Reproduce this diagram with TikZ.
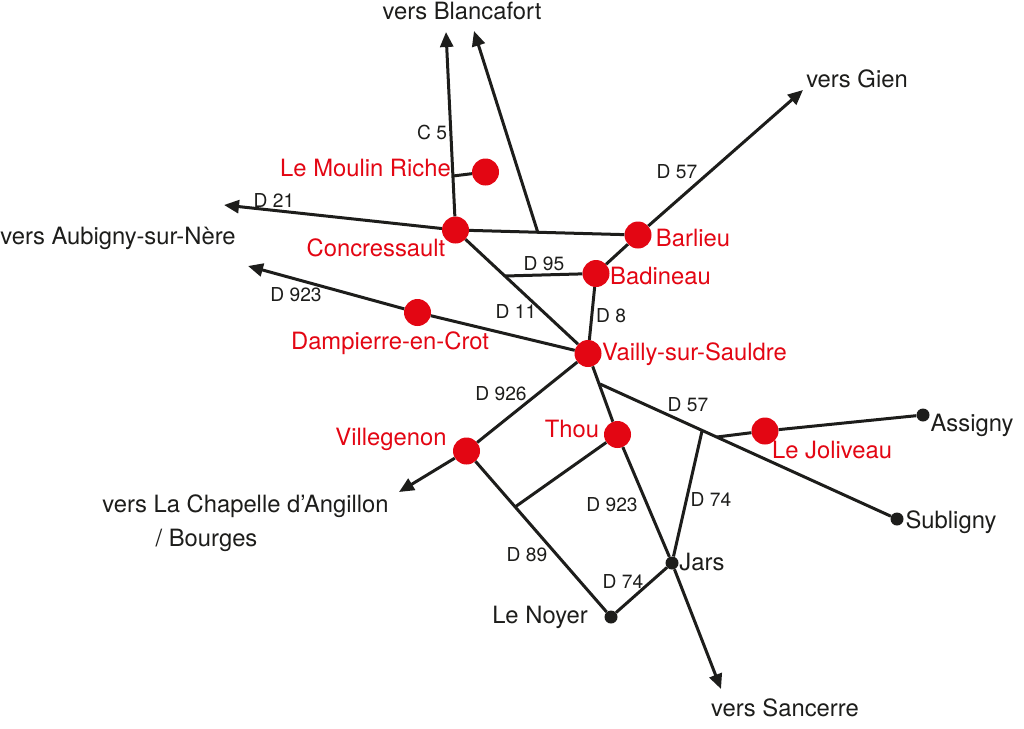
\documentclass[tikz,border=0pt]{standalone}
\usepackage{fontspec}
\setmainfont{TeX Gyre Heros}
\usetikzlibrary{arrows.meta}
\definecolor{villered}{RGB}{227,6,19}
\definecolor{roadblack}{RGB}{29,29,27}
\tikzset{
  ville/.style={circle,fill=villered,inner sep=0pt,minimum size=27pt},
  bourg/.style={circle,fill=roadblack,inner sep=0pt,minimum size=13pt},
  road/.style={draw=roadblack,line width=3pt},
  exit/.style={road,-{Triangle[length=15pt,width=13pt]}},
  rouge/.style={text=villered,inner sep=0pt,text height=19.5pt,text depth=2.5pt,font=\fontsize{23.8}{24}\selectfont},
  noir/.style={text=roadblack,inner sep=0pt,text height=19.5pt,text depth=2.5pt,font=\fontsize{23.8}{24}\selectfont},
  num/.style={text=roadblack,inner sep=0pt,font=\fontsize{19.2}{19.2}\selectfont}
}
\begin{document}
\begin{tikzpicture}[x=1pt,y=-1pt]
      \useasboundingbox (0,0) rectangle (1024,728);
      % villages
      \node[ville] (concressault) at (455.5,230) {};
      \node[ville] (moulin) at (485.5,172) {};
      \node[ville] (barlieu) at (638,235) {};
      \node[ville] (badineau) at (596,273.5) {};
      \node[ville] (vailly) at (588,353.5) {};
      \node[ville] (dampierre) at (417.5,312.5) {};
      \node[ville] (villegenon) at (466.5,451) {};
      \node[ville] (thou) at (617.5,434.5) {};
      \node[ville] (joliveau) at (765,431) {};
      \node[bourg] (jars) at (672,563) {};
      \node[bourg] (noyer) at (611,617) {};
      \node[bourg] (assigny) at (923,415) {};
      \node[bourg] (subligny) at (897,519) {};
      % junctions and free ends
      \coordinate (jmoulin) at (453,176);
      \coordinate (jblanca) at (538,233);
      \coordinate (jd95) at (505,276);
      \coordinate (jd57) at (600,384);
      \coordinate (jd74) at (702,431);
      \coordinate (jjoli) at (717,437);
      \coordinate (jthou) at (515,507);
      \coordinate (blancaA) at (446,32);
      \coordinate (blancaB) at (474,31);
      \coordinate (gien) at (803,90);
      \coordinate (aubigny) at (224,205);
      \coordinate (aubignyB) at (248,266);
      \coordinate (chapelle) at (399,492);
      \coordinate (sancerre) at (721,689);
      % roads
      \draw[exit] (concressault) -- (blancaA);
      \draw[exit] (jblanca) -- (blancaB);
      \draw[exit] (barlieu) -- (gien);
      \draw[exit] (concressault) -- (aubigny);
      \draw[exit] (dampierre) -- (aubignyB);
      \draw[exit] (villegenon) -- (chapelle);
      \draw[exit] (jars) -- (sancerre);
      \draw[road] (moulin) -- (jmoulin);
      \draw[road] (concressault) -- (barlieu);
      \draw[road] (concressault) -- (vailly);
      \draw[road] (jd95) -- (badineau);
      \draw[road] (badineau) -- (barlieu);
      \draw[road] (vailly) -- (badineau);
      \draw[road] (vailly) -- (dampierre);
      \draw[road] (vailly) -- (villegenon);
      \draw[road] (vailly) -- (thou);
      \draw[road] (thou) -- (jars);
      \draw[road] (jthou) -- (thou);
      \draw[road] (villegenon) -- (noyer);
      \draw[road] (noyer) -- (jars);
      \draw[road] (jars) -- (jd74);
      \draw[road] (jd57) -- (subligny);
      \draw[road] (jjoli) -- (joliveau);
      \draw[road] (joliveau) -- (assigny);
      % place names
      \node[rouge] (tmoulin) at (365.5,168) {Le Moulin Riche};
      \node[rouge] (tconcressault) at (376,248) {Concressault};
      \node[rouge] (tbarlieu) at (693,238) {Barlieu};
      \node[rouge] (tbadineau) at (660.5,276) {Badineau};
      \node[rouge] (tdampierre) at (390,341) {Dampierre-en-Crot};
      \node[rouge] (tvailly) at (694.5,352) {Vailly-sur-Sauldre};
      \node[rouge] (tthou) at (572,429) {Thou};
      \node[rouge] (tvillegenon) at (391,437) {Villegenon};
      \node[rouge] (tjoliveau) at (832,450) {Le Joliveau};
      \node[noir] (tblanca) at (462,11) {vers Blancafort};
      \node[noir] (tgien) at (857,79) {vers Gien};
      \node[noir] (taubigny) at (118,236) {vers Aubigny-sur-Nère};
      \node[noir] (tchapelle) at (245.5,504) {vers La Chapelle d’Angillon};
      \node[noir] (tbourges) at (206.5,538) {/ Bourges};
      \node[noir] (tassigny) at (972,423) {Assigny};
      \node[noir] (tsubligny) at (951,520) {Subligny};
      \node[noir] (tjars) at (702,562) {Jars};
      \node[noir] (tnoyer) at (540,615) {Le Noyer};
      \node[noir] (tsancerre) at (785,708) {vers Sancerre};
      % road numbers
      \node[num] (nc5) at (432,132) {C 5};
      \node[num] (nd21) at (274,200) {D 21};
      \node[num] (ngien) at (677,172) {D 57};
      \node[num] (nd95) at (544,264) {D 95};
      \node[num] (nd923a) at (296,295) {D 923};
      \node[num] (nd11) at (516,311) {D 11};
      \node[num] (nd8) at (611,316) {D 8};
      \node[num] (nd926) at (501,394) {D 926};
      \node[num] (nd57) at (688,405) {D 57};
      \node[num] (nd923b) at (612,505) {D 923};
      \node[num] (nd74a) at (711,499) {D 74};
      \node[num] (nd89) at (527,555) {D 89};
      \node[num] (nd74b) at (623,581) {D 74};
\end{tikzpicture}
\end{document}
